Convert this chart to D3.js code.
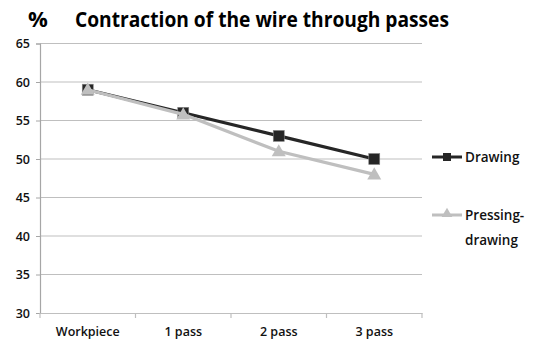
<!DOCTYPE html>
<html><head><meta charset="utf-8">
<script src="https://cdn.jsdelivr.net/npm/d3@7/dist/d3.min.js"></script>
<style>body{margin:0;background:#fff}svg{display:block}</style>
</head><body>
<script>
const categories = ["Workpiece", "1 pass", "2 pass", "3 pass"];
const drawing = [59, 56, 53, 50];
const pressingDrawing = [59, 55.8, 51, 48];
const yTicks = [30, 35, 40, 45, 50, 55, 60, 65];
const seriesNames = ["Drawing", "Pressing-drawing"];

const W = 533, H = 351;
const m = {left: 40, right: 111, top: 43.5, bottom: 38};
const svg = d3.select("body").append("svg").attr("width", W).attr("height", H);
const font = "'Open Sans', 'Liberation Sans', sans-serif";

const x = d3.scaleBand().domain(categories).range([m.left, W - m.right]).paddingInner(0).paddingOuter(0);
const y = d3.scaleLinear().domain([30, 65]).range([H - m.bottom, m.top]);

// gridlines
svg.append("g").selectAll("line").data(yTicks.filter(d => d > 30)).join("line")
  .attr("x1", m.left).attr("x2", W - m.right)
  .attr("y1", d => y(d)).attr("y2", d => y(d))
  .attr("stroke", "#bfbfbf").attr("stroke-width", 1.2);

// y axis
const ya = svg.append("g").attr("transform", `translate(${m.left},0)`)
  .call(d3.axisLeft(y).tickValues(yTicks).tickSize(4).tickPadding(6));
ya.select(".domain").attr("stroke", "#a6a6a6").attr("stroke-width", 1.2);
ya.selectAll(".tick line").attr("stroke", "#a6a6a6");
ya.selectAll("text").attr("font-family", font).attr("font-size", 12.5).attr("font-weight", 600).attr("fill", "#111");

// x axis
const xa = svg.append("g").attr("transform", `translate(0,${y(30)})`)
  .call(d3.axisBottom(x).tickSize(0).tickPadding(14));
xa.select(".domain").attr("stroke", "#bfbfbf").attr("stroke-width", 1.2);
xa.selectAll("text").attr("font-family", font).attr("font-size", 12.5).attr("font-weight", 600).attr("fill", "#111");
// boundary ticks
const bounds = categories.map(c => x(c)).concat([x(categories[categories.length - 1]) + x.bandwidth()]);
xa.append("g").selectAll("line").data(bounds).join("line")
  .attr("x1", d => d).attr("x2", d => d).attr("y1", 0).attr("y2", 5)
  .attr("stroke", "#bfbfbf").attr("stroke-width", 1.2);

const cx = c => x(c) + x.bandwidth() / 2;
const line = d3.line().x((d, i) => cx(categories[i])).y(d => y(d));

const darkC = "#262626", lightC = "#bfbfbf";
const tri = d3.symbol().type(d3.symbolTriangle).size(85);

// drawing series
svg.append("path").datum(drawing).attr("d", line).attr("fill", "none").attr("stroke", darkC).attr("stroke-width", 3.2);
svg.append("g").selectAll("rect").data(drawing).join("rect")
  .attr("x", (d, i) => cx(categories[i]) - 5.5).attr("y", d => y(d) - 5.5)
  .attr("width", 11).attr("height", 11).attr("fill", darkC).attr("stroke", "#888").attr("stroke-width", 0.6);

// pressing series
svg.append("path").datum(pressingDrawing).attr("d", line).attr("fill", "none").attr("stroke", lightC).attr("stroke-width", 3.2);
svg.append("g").selectAll("path.tri").data(pressingDrawing).join("path")
  .attr("transform", (d, i) => `translate(${cx(categories[i])},${y(d) + 1})`)
  .attr("d", tri).attr("fill", lightC);

// legend
const lg = svg.append("g");
lg.append("line").attr("x1", 432).attr("x2", 462).attr("y1", 157).attr("y2", 157).attr("stroke", darkC).attr("stroke-width", 3);
lg.append("rect").attr("x", 443).attr("y", 153).attr("width", 8).attr("height", 8).attr("fill", darkC);
lg.append("text").attr("x", 465).attr("y", 162).text(seriesNames[0])
  .attr("font-family", font).attr("font-size", 13.5).attr("font-weight", 600).attr("fill", "#111");
lg.append("line").attr("x1", 432).attr("x2", 462).attr("y1", 215).attr("y2", 215).attr("stroke", lightC).attr("stroke-width", 3);
lg.append("path").attr("transform", "translate(447,214)").attr("d", d3.symbol().type(d3.symbolTriangle).size(50)).attr("fill", lightC);
const parts = seriesNames[1].split("-");
lg.append("text").attr("x", 465).attr("y", 220).text(parts[0] + "-")
  .attr("font-family", font).attr("font-size", 13.5).attr("font-weight", 600).attr("fill", "#111");
lg.append("text").attr("x", 465).attr("y", 245).text(parts[1])
  .attr("font-family", font).attr("font-size", 13.5).attr("font-weight", 600).attr("fill", "#111");

// title
svg.append("text").attr("x", 28).attr("y", 27).text("%")
  .attr("font-family", font).attr("font-size", 22).attr("font-weight", 700).attr("fill", "#000");
svg.append("text").attr("x", 75).attr("y", 27).text("Contraction of the wire through passes")
  .attr("font-family", font).attr("font-size", 22).attr("font-weight", 700).attr("fill", "#000")
  .attr("textLength", 374).attr("lengthAdjust", "spacingAndGlyphs");
</script>
</body></html>
